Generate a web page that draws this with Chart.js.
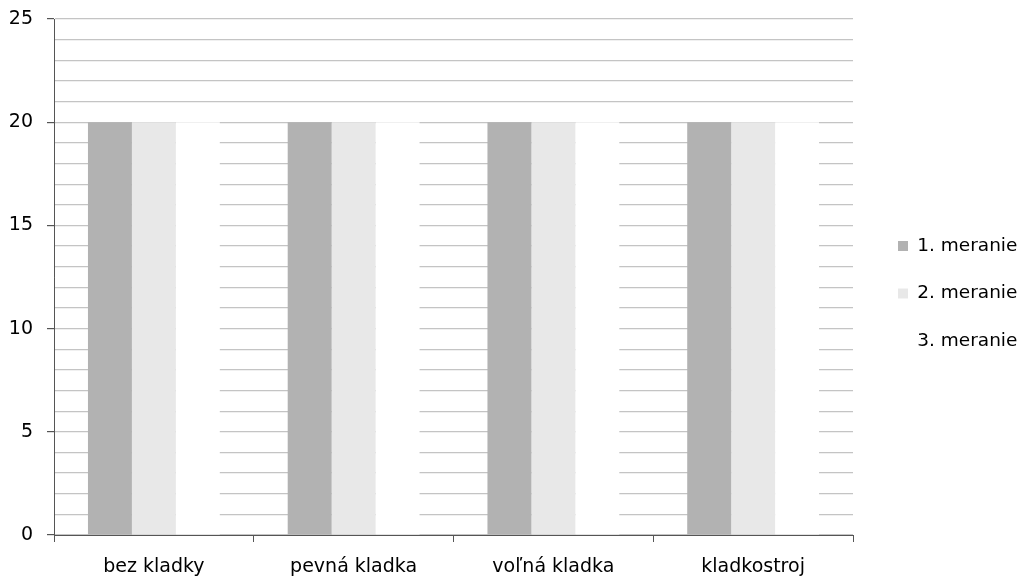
<!DOCTYPE html>
<html>
<head>
<meta charset="utf-8">
<script src="https://cdn.jsdelivr.net/npm/chart.js@4"></script>
<style>
html,body{margin:0;padding:0;background:#fff;}
#wrap{width:1020px;height:580px;}
</style>
</head>
<body>
<div id="wrap"><canvas id="c"></canvas></div>
<script>
const categories = ["bez kladky", "pevná kladka", "voľná kladka", "kladkostroj"];
const seriesNames = ["1. meranie", "2. meranie", "3. meranie"];
const meranie1 = [20, 20, 20, 20];
const meranie2 = [20, 20, 20, 20];
const meranie3 = [20, 20, 20, 20];
const seriesColors = ["#b2b2b2", "#e8e8e8", "#ffffff"];

const FONT = "'DejaVu Sans', sans-serif";
const LEGEND_WIDTH = 167;
const LEGEND_SHIFT_X = 16;
const LEGEND_SHIFT_Y = -6;

const legendLayoutPlugin = {
  id: 'legendLayout',
  afterInit(chart) {
    const lg = chart.legend;
    if (!lg) return;
    const origFit = lg.fit;
    lg.fit = function () {
      origFit.call(this);
      this.width = LEGEND_WIDTH;
    };
  },
  afterLayout(chart) {
    const lg = chart.legend;
    if (!lg) return;
    lg.left += LEGEND_SHIFT_X;
    lg.right += LEGEND_SHIFT_X;
    lg.top += LEGEND_SHIFT_Y;
    lg.bottom += LEGEND_SHIFT_Y;
  }
};

new Chart(document.getElementById('c'), {
  type: 'bar',
  data: {
    labels: categories,
    datasets: [meranie1, meranie2, meranie3].map((d, i) => ({
      label: seriesNames[i],
      data: d,
      backgroundColor: seriesColors[i],
      borderWidth: 0,
      categoryPercentage: 0.66,
      barPercentage: 1.0
    }))
  },
  plugins: [legendLayoutPlugin],
  options: {
    responsive: true,
    maintainAspectRatio: false,
    animation: false,
    layout: { padding: { top: 19, right: 0, left: 0, bottom: 0 } },
    plugins: {
      tooltip: { enabled: false },
      legend: {
        position: 'right',
        align: 'center',
        labels: {
          font: { family: FONT, size: 18.5 },
          color: '#000',
          boxWidth: 10,
          boxHeight: 10,
          padding: 29
        }
      }
    },
    scales: {
      x: {
        offset: true,
        afterFit: s => { s.height = 45; s.paddingTop = 0; },
        grid: {
          offset: true,
          drawOnChartArea: false,
          drawTicks: true,
          tickLength: 7,
          tickColor: '#555',
          tickWidth: 1
        },
        border: { color: '#555', width: 1 },
        ticks: {
          font: { family: FONT, size: 19 },
          color: '#000',
          padding: 14,
          maxRotation: 0
        }
      },
      y: {
        min: 0,
        max: 25,
        afterFit: s => { s.width = 54; s.paddingTop = 0; s.paddingBottom = 0; },
        grid: {
          color: '#c4c4c4',
          lineWidth: 1.2,
          drawTicks: true,
          tickLength: 7,
          tickColor: ctx => (ctx.tick && ctx.tick.value % 5 === 0) ? '#555' : 'rgba(0,0,0,0)'
        },
        border: { color: '#555', width: 1 },
        ticks: {
          stepSize: 1,
          autoSkip: false,
          font: { family: FONT, size: 19 },
          color: '#000',
          padding: 14,
          callback: v => (v % 5 === 0 ? String(v) : '')
        }
      }
    }
  }
});
</script>
</body>
</html>
